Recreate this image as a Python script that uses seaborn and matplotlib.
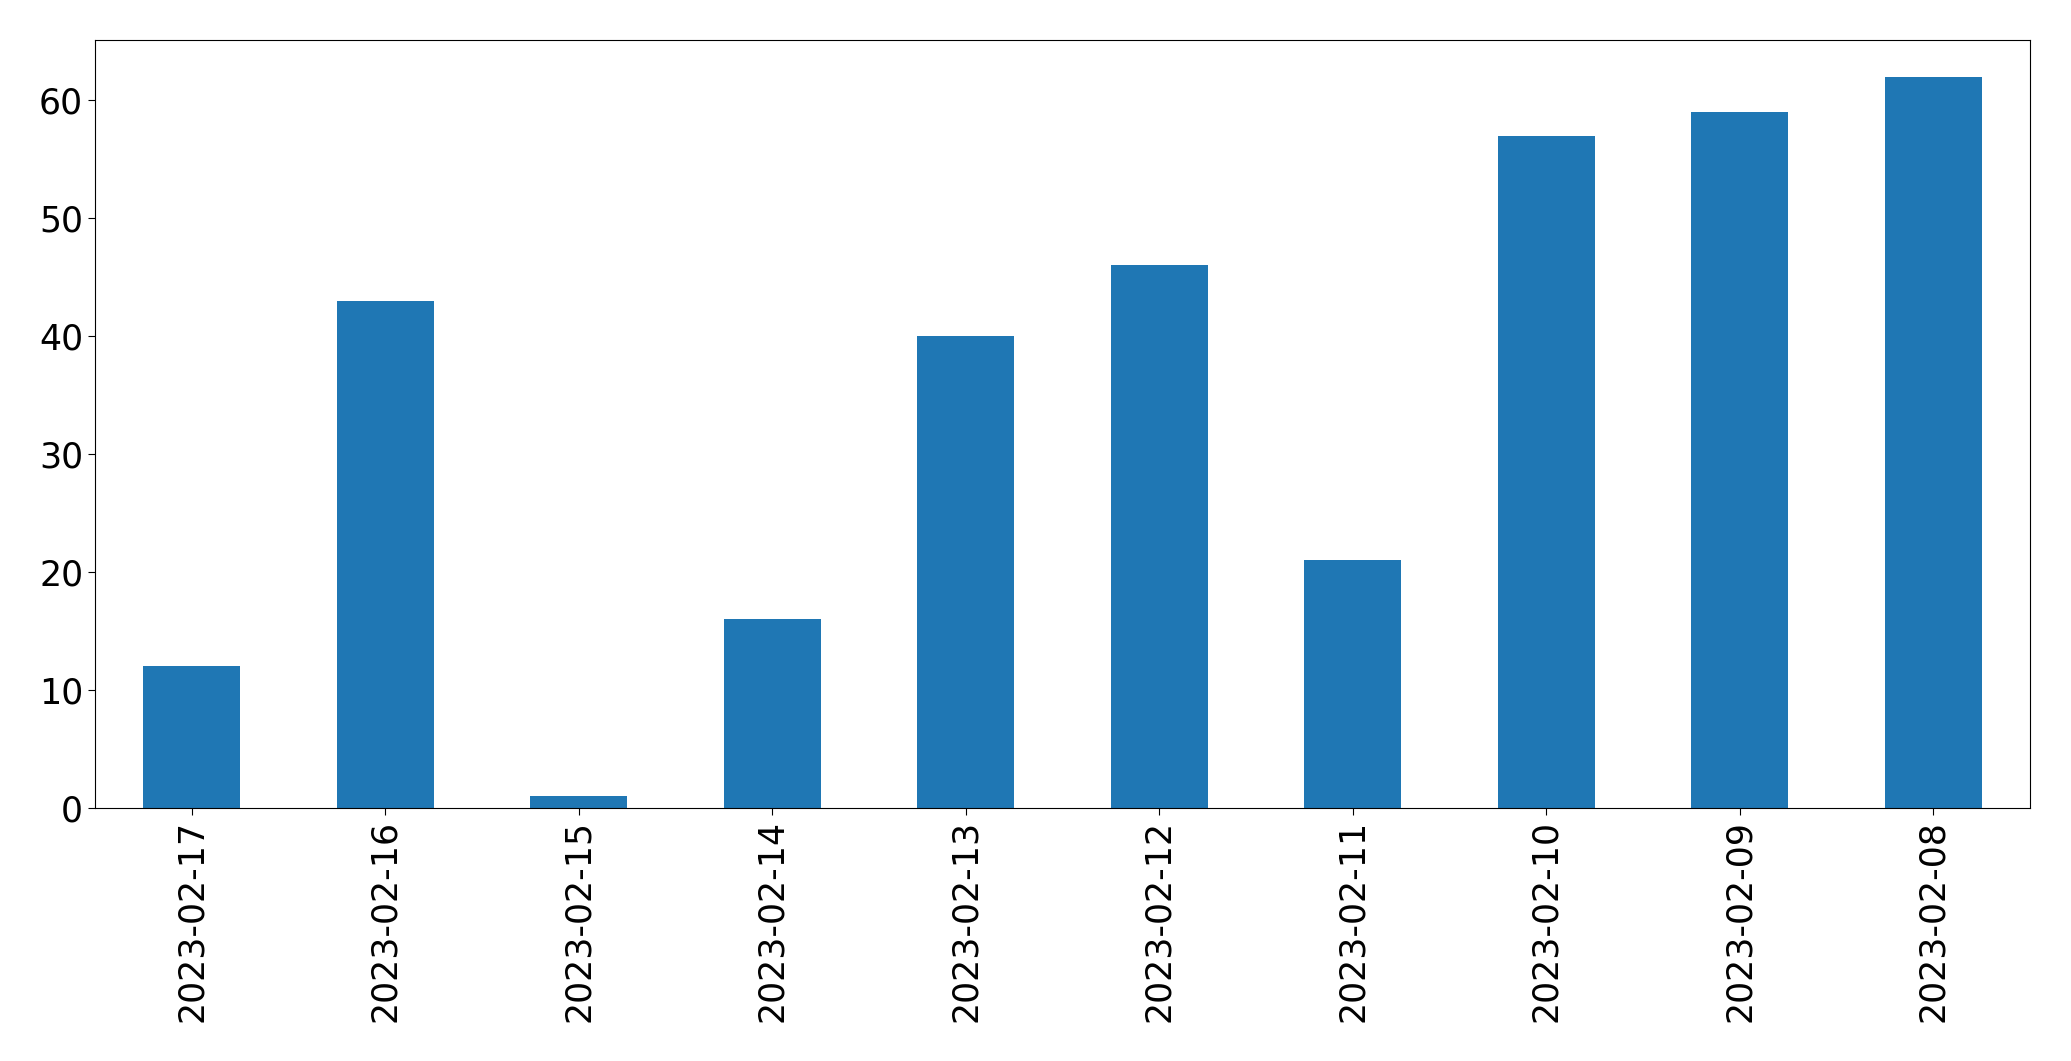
import matplotlib
matplotlib.use("Agg")
import matplotlib.pyplot as plt
import seaborn as sns
import pandas as pd

dates = ["2023-02-17", "2023-02-16", "2023-02-15", "2023-02-14", "2023-02-13",
         "2023-02-12", "2023-02-11", "2023-02-10", "2023-02-09", "2023-02-08"]
counts = [12, 43, 1, 16, 40, 46, 21, 57, 59, 62]

df = pd.DataFrame({"date": dates, "count": counts})

fig = plt.figure(figsize=(20.71, 10.61), dpi=100)
ax = fig.add_axes([95 / 2071, 1 - 808 / 1061, (2030 - 95) / 2071, (808 - 40) / 1061])
sns.barplot(data=df, x="date", y="count", color="#1f77b4", saturation=1,
            width=0.5, ax=ax, order=dates, linewidth=0)
ax.set_xlim(-0.5, 9.5)
ax.set_ylim(0, max(counts) * 1.05)
ax.set_xlabel("")
ax.set_ylabel("")
ax.tick_params(axis="both", labelsize=25, length=5)
plt.setp(ax.get_xticklabels(), rotation=90)
fig.savefig("out.png", dpi=100)
